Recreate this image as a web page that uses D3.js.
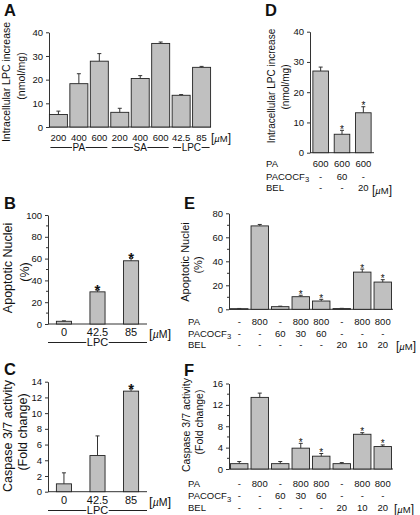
<!DOCTYPE html>
<html><head><meta charset="utf-8">
<script src="https://cdn.jsdelivr.net/npm/d3@7"></script>
<style>body{margin:0;background:#fff}svg{display:block}text{font-family:"Liberation Sans",Arial,sans-serif;fill:#111}</style>
</head><body>
<script>
// ---------- DATA ----------
const aLabels = ["200","400","600","200","400","600","42.5","85"];
const aValues = [5.3, 18.3, 27.8, 6.2, 20.5, 35.3, 13.4, 25.2];
const aErrors = [1.4, 4.2, 3.2, 1.7, 1.2, 0.6, 0.3, 0.4];
const aGroups = ["PA","SA","LPC"];
const aGroupIdx = [[0,2],[3,5],[6,7]];
const aTicks = [0,10,20,30,40];

const bLabels = ["0","42.5","85"];
const bValues = [2.5, 29.5, 58];
const bErrors = [0.4, 1.6, 2.2];
const bStars = [false,true,true];
const bTicks = [0,20,40,60,80,100];

const cLabels = ["0","42.5","85"];
const cValues = [1, 4.6, 12.8];
const cErrors = [1.4, 2.5, 0.3];
const cStars = [false,false,true];
const cTicks = [0,2,4,6,8,10,12,14];

const dValues = [27.0, 6.1, 13.2];
const dErrors = [1.3, 1.3, 2.0];
const dStars = [false,true,true];
const dTicks = [0,10,20,30,40];
const dPA = ["600","600","600"];
const dPACOCF3 = ["-","60","-"];
const dBEL = ["-","-","20"];

const eValues = [0.5, 69.5, 2.2, 10.5, 6.9, 0.6, 31.0, 22.7];
const eErrors = [0.2, 1.2, 0.4, 1.2, 1.4, 0.2, 2.5, 2.0];
const eStars = [false,false,false,true,true,false,true,true];
const eTicks = [0,20,40,60,80];

const fValues = [1.0, 13.4, 1.0, 3.9, 2.4, 1.0, 6.5, 4.2];
const fErrors = [0.4, 0.8, 0.4, 0.9, 0.5, 0.2, 0.3, 0.3];
const fStars = [false,false,false,true,true,false,true,true];
const fTicks = [0,4,8,12,16];

const efPA = ["-","800","-","800","800","-","800","800"];
const efPACOCF3 = ["-","-","60","30","60","-","-","-"];
const efBEL = ["-","-","-","-","-","20","10","20"];

// ---------- DRAW ----------
const svg = d3.select("body").append("svg").attr("width",420).attr("height",515);
const FILL = "#c0c0c0", STROKE = "#222";

function barPanel(o){
  const x = d3.scaleBand().domain(d3.range(o.values.length)).range([o.x0,o.x1])
    .paddingInner(o.pi).paddingOuter(o.po);
  const y = d3.scaleLinear().domain([0,o.max]).range([o.yb,o.yt]);
  const g = svg.append("g");
  const ax = g.append("g").attr("transform",`translate(${o.x0},0)`)
    .call(d3.axisLeft(y).tickValues(o.ticks).tickSize(3).tickSizeOuter(0).tickPadding(3));
  ax.select(".domain").attr("stroke","#333");
  ax.selectAll(".tick line").attr("stroke","#333");
  ax.selectAll("text").attr("font-size",o.tickFont).attr("font-family","Liberation Sans, Arial, sans-serif").attr("fill","#111");
  if(o.minor){
    g.selectAll(".mn").data(o.minor).enter().append("line")
      .attr("x1",o.x0-2).attr("x2",o.x0).attr("y1",d=>y(d)).attr("y2",d=>y(d)).attr("stroke","#333");
  }
  g.append("line").attr("x1",o.x0).attr("x2",o.x1).attr("y1",y(0)).attr("y2",y(0)).attr("stroke","#333");
  g.selectAll(".bar").data(o.values).enter().append("rect")
    .attr("x",(d,i)=>x(i)).attr("width",x.bandwidth())
    .attr("y",d=>y(d)).attr("height",d=>y(0)-y(d))
    .attr("fill",FILL).attr("stroke",STROKE).attr("stroke-width",0.9);
  o.values.forEach((v,i)=>{
    const cx = x(i)+x.bandwidth()/2, e = o.errors[i];
    g.append("line").attr("x1",cx).attr("x2",cx).attr("y1",y(v)).attr("y2",y(v+e)).attr("stroke","#333");
    g.append("line").attr("x1",cx-2).attr("x2",cx+2).attr("y1",y(v+e)).attr("y2",y(v+e)).attr("stroke","#333");
    if(o.stars && o.stars[i]){
      g.append("text").attr("x",cx).attr("y",y(v+e)-2+0.45*o.starSize)
        .attr("text-anchor","middle").attr("font-size",o.starSize).attr("font-weight",o.starBold?"bold":"normal").text("*");
    }
  });
  return {x,y};
}

function txt(x,y,s,size,opts={}){
  const t = svg.append("text").attr("x",x).attr("y",y).attr("font-size",size).text(s);
  if(opts.anchor) t.attr("text-anchor",opts.anchor);
  if(opts.bold) t.attr("font-weight","bold");
  return t;
}
function vtxt(cx,cy,s,size){
  return svg.append("text").attr("transform",`translate(${cx},${cy}) rotate(-90)`)
    .attr("text-anchor","middle").attr("font-size",size).text(s);
}
function um(x,y,size){
  const t = svg.append("text").attr("x",x).attr("y",y).attr("font-size",size);
  t.append("tspan").attr("font-size",size*1.25).text("[");
  t.append("tspan").attr("font-style","italic").text("\u00b5");
  t.append("tspan").text("M");
  t.append("tspan").attr("font-size",size*1.25).text("]");
}
function groupLine(x1,x2,y,label,size){
  const mid=(x1+x2)/2;
  const t = txt(mid,y+size*0.36,label,size,{anchor:"middle"});
  const w = t.node().getComputedTextLength();
  svg.append("line").attr("x1",x1).attr("x2",mid-w/2-0.5).attr("y1",y).attr("y2",y).attr("stroke","#222");
  svg.append("line").attr("x1",mid+w/2+0.5).attr("x2",x2).attr("y1",y).attr("y2",y).attr("stroke","#222");
}
function pacocf(x,y,size){
  const t = svg.append("text").attr("x",x).attr("y",y).attr("font-size",size);
  t.append("tspan").text("PACOCF");
  t.append("tspan").attr("font-size",size*0.8).attr("dy",2.5).text("3");
}

// Panel A
const A = barPanel({values:aValues,errors:aErrors,x0:49,x1:211,pi:0.12,po:0.02,
  yb:127,yt:32.3,max:40,ticks:aTicks,tickFont:9.5});
aLabels.forEach((s,i)=>txt(A.x(i)+A.x.bandwidth()/2,140.5,s,9.5,{anchor:"middle"}));
um(211,141.5,9.5);
aGroupIdx.forEach((g,k)=>groupLine(A.x(g[0])+1,A.x(g[1])+A.x.bandwidth()-1,147.5,aGroups[k],10));
txt(4,16,"A",16.5,{bold:true});
vtxt(10,82,"Intracellular LPC increase",10.5);
vtxt(25,76,"(nmol/mg)",10.5);

// Panel B
const B = barPanel({values:bValues,errors:bErrors,stars:bStars,starSize:15,starBold:true,
  x0:48,x1:147,pi:0.55,po:0.25,yb:324,yt:215,max:100,ticks:bTicks,
  minor:[10,30,50,70,90],tickFont:9.5});
bLabels.forEach((s,i)=>txt(B.x(i)+B.x.bandwidth()/2,336,s,11,{anchor:"middle"}));
um(149,337.5,10.5);
groupLine(48,147,342.5,"LPC",11);
txt(4,208.5,"B",16.5,{bold:true});
vtxt(12,268,"Apoptotic Nuclei",12.5);
vtxt(29,272,"(%)",12.5);

// Panel C
const C = barPanel({values:cValues,errors:cErrors,stars:cStars,starSize:15,starBold:true,
  x0:48,x1:147,pi:0.55,po:0.25,yb:491.7,yt:381.7,max:14,ticks:cTicks,tickFont:9.5});
cLabels.forEach((s,i)=>txt(C.x(i)+C.x.bandwidth()/2,504,s,11,{anchor:"middle"}));
um(149,505.5,10.5);
groupLine(48,147,510.5,"LPC",11);
txt(4,375,"C",16.5,{bold:true});
vtxt(12,436,"Caspase 3/7 activity",12.5);
vtxt(26.5,432,"(Fold change)",12.5);

// Panel D
const D = barPanel({values:dValues,errors:dErrors,stars:dStars,starSize:10,
  x0:310,x1:374,pi:0.27,po:0.135,yb:152.7,yt:31.7,max:40,ticks:dTicks,tickFont:9.5});
txt(265,16,"D",16.5,{bold:true});
vtxt(275,86,"Intracellular LPC increase",10);
vtxt(288.5,87,"(nmol/mg)",10);
txt(266,167,"PA",9.5); pacocf(266,179.5,9.5); txt(266,191,"BEL",9.5);
dPA.forEach((s,i)=>txt(D.x(i)+D.x.bandwidth()/2,167,s,9.5,{anchor:"middle"}));
dPACOCF3.forEach((s,i)=>txt(D.x(i)+D.x.bandwidth()/2,179.5,s,9.5,{anchor:"middle"}));
dBEL.forEach((s,i)=>txt(D.x(i)+D.x.bandwidth()/2,191,s,9.5,{anchor:"middle"}));
um(372,193.5,9.5);

// Panel E
const E = barPanel({values:eValues,errors:eErrors,stars:eStars,starSize:10,
  x0:229,x1:393,pi:0.15,po:0.075,yb:309.3,yt:213.3,max:80,ticks:eTicks,
  minor:[10,30,50,70],tickFont:9.5});
txt(184,208.5,"E",16.5,{bold:true});
vtxt(189,262,"Apoptotic Nuclei",11);
vtxt(202,265,"(%)",11);
txt(188,325,"PA",9.5); pacocf(188,336.5,9.5); txt(188,348,"BEL",9.5);
efPA.forEach((s,i)=>txt(E.x(i)+E.x.bandwidth()/2,325,s,9.5,{anchor:"middle"}));
efPACOCF3.forEach((s,i)=>txt(E.x(i)+E.x.bandwidth()/2,336.5,s,9.5,{anchor:"middle"}));
efBEL.forEach((s,i)=>txt(E.x(i)+E.x.bandwidth()/2,348,s,9.5,{anchor:"middle"}));
um(396,350,9.5);

// Panel F
const F = barPanel({values:fValues,errors:fErrors,stars:fStars,starSize:10,
  x0:229,x1:393,pi:0.15,po:0.075,yb:469,yt:383.5,max:16,ticks:fTicks,
  minor:[2,6,10,14],tickFont:9.5});
txt(184,375.5,"F",16.5,{bold:true});
vtxt(190,425,"Caspase 3/7 activity",10.5);
vtxt(202.5,422,"(Fold change)",10.5);
txt(188,487,"PA",9.5); pacocf(188,499,9.5); txt(188,511,"BEL",9.5);
efPA.forEach((s,i)=>txt(F.x(i)+F.x.bandwidth()/2,487,s,9.5,{anchor:"middle"}));
efPACOCF3.forEach((s,i)=>txt(F.x(i)+F.x.bandwidth()/2,499,s,9.5,{anchor:"middle"}));
efBEL.forEach((s,i)=>txt(F.x(i)+F.x.bandwidth()/2,511,s,9.5,{anchor:"middle"}));
um(394,512.5,9.5);
</script>
</body></html>
